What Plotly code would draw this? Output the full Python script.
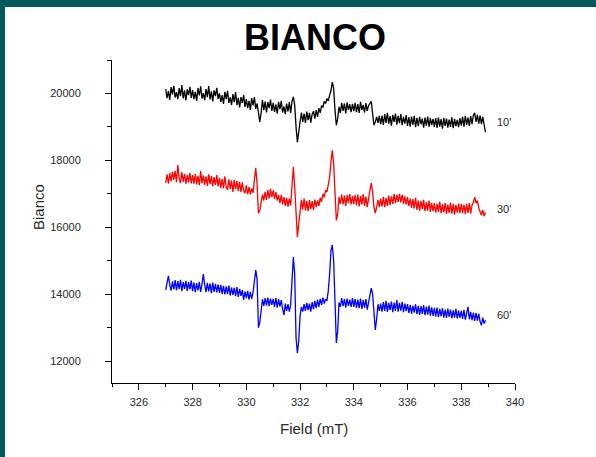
import numpy as np
import plotly.graph_objects as go

# Field sweep (mT), sampled every 0.05 mT
field = np.round(np.arange(327.0, 338.9001, 0.05), 2)

# EPR intensity, 10 minutes
bianco_10 = [
    20130, 19860, 20070, 19810, 20190, 19970, 20230, 19880, 20040, 19830, 20160, 19920, 20250, 19850, 20090, 19790, 20120, 19950, 20200, 19870,
    20100, 19830, 20050, 19780, 20160, 19940, 20210, 19850, 20010, 19800, 20130, 19890, 20220, 19820, 20060, 19760, 20090, 19920, 20170, 19840,
    20000, 19740, 19950, 19690, 20050, 19830, 20080, 19720, 19880, 19660, 19980, 19740, 20040, 19650, 19870, 19580, 19890, 19720, 19950, 19600,
    19830, 19560, 19780, 19510, 19860, 19640, 19890, 19540, 19700, 19480, 19150, 19420, 19800, 19500, 19760, 19430, 19740, 19560, 19820, 19480,
    19720, 19450, 19670, 19400, 19750, 19530, 19780, 19430, 19610, 19380, 19700, 19460, 19740, 19420, 19760, 19900, 19650, 19000, 18540, 18850,
    19180, 19430, 19150, 19400, 19120, 19460, 19200, 19420, 19130, 19380, 19470, 19250, 19500, 19300, 19560, 19420, 19640, 19580, 19760, 19700,
    19850, 19780, 19950, 20080, 20340, 20150, 19500, 19050, 19250, 19600, 19420, 19720, 19480, 19700, 19400, 19730, 19510, 19680, 19440, 19690,
    19470, 19720, 19440, 19680, 19420, 19750, 19500, 19660, 19430, 19710, 19480, 19640, 19700, 19760, 19400, 19050, 19150, 19300, 19120, 19330,
    19080, 19340, 19060, 19380, 19120, 19420, 19100, 19320, 19040, 19360, 19150, 19400, 19070, 19330, 19110, 19380, 19050, 19300, 19100, 19350,
    19030, 19290, 19010, 19310, 19060, 19330, 18990, 19270, 19020, 19300, 19080, 19250, 18980, 19280, 19040, 19310, 19000, 19260, 19050, 19240,
    19000, 19260, 18970, 19280, 19010, 19230, 18950, 19270, 19030, 19250, 18980, 19220, 19000, 19290, 18960, 19240, 19020, 19210, 18990, 19260,
    19040, 19300, 19010, 19330, 19060, 19280, 19030, 19320, 19080, 19350, 19420, 19150, 19360, 19100, 19340, 19080, 19300, 19020, 18840,
]

# EPR intensity, 30 minutes
bianco_30 = [
    17330, 17580, 17300, 17620, 17380, 17660, 17420, 17690, 17350, 17860, 17470, 17320, 17640, 17360, 17600, 17300, 17570, 17340, 17620, 17310,
    17560, 17300, 17590, 17280, 17540, 17260, 17680, 17310, 17550, 17270, 17520, 17240, 17580, 17290, 17530, 17230, 17500, 17260, 17560, 17220,
    17480, 17180, 17450, 17160, 17520, 17200, 17120, 17430, 17150, 17400, 17060, 17420, 17140, 17390, 17080, 17360, 17050, 17340, 17100, 17020,
    17250, 16990, 17200, 16980, 17160, 17030, 17420, 17770, 17300, 16420, 16500, 16780, 16980, 16800, 17060, 16820, 17110, 16860, 17150, 16900,
    17100, 16850, 17050, 16800, 16960, 16720, 16970, 16680, 16900, 16640, 16880, 16620, 16860, 16650, 17300, 17800, 17200, 16200, 15710, 16100,
    16560, 16820, 16530, 16860, 16500, 16790, 16480, 16810, 16550, 16780, 16520, 16830, 16600, 16800, 16640, 16880, 16760, 17000, 16900, 17110,
    17050, 17250, 17500, 17950, 18300, 17900, 17000, 16210, 16400, 16900, 16700, 16980, 16680, 16950, 16640, 16960, 16720, 16990, 16680, 16940,
    16690, 16960, 16650, 16980, 16620, 16930, 16680, 16990, 16640, 16920, 16600, 16900, 17100, 17320, 17050, 16600, 16420, 16600, 16820, 16600,
    16860, 16620, 16900, 16600, 16880, 16640, 16950, 16660, 16920, 16700, 16990, 16720, 16970, 16760, 17000, 16740, 16980, 16700, 16920, 16680,
    16900, 16640, 16860, 16580, 16840, 16560, 16880, 16520, 16800, 16500, 16790, 16540, 16820, 16480, 16760, 16500, 16800, 16460, 16720, 16480,
    16720, 16440, 16700, 16460, 16760, 16420, 16690, 16450, 16720, 16400, 16680, 16430, 16740, 16410, 16690, 16380, 16670, 16440, 16710, 16420,
    16690, 16420, 16680, 16400, 16700, 16430, 16720, 16410, 16660, 16750, 16900, 16720, 16800, 16580, 16450, 16360, 16520, 16330, 16440,
]

# EPR intensity, 60 minutes
bianco_60 = [
    14130, 14380, 14550, 14280, 14110, 14380, 14140, 14420, 14120, 14390, 14150, 14430, 14090, 14360, 14160, 14400, 14100, 14370, 14140, 14410,
    14090, 14350, 14060, 14330, 14110, 14370, 14070, 14300, 14600, 14280, 14060, 14340, 14080, 14320, 14030, 14350, 14070, 14310, 14050, 14290,
    14040, 14280, 14010, 14250, 13990, 14230, 14000, 14260, 13960, 14200, 13980, 14190, 13940, 14210, 13920, 14160, 13950, 14120, 13830, 14080,
    13880, 14100, 13840, 14070, 13860, 14050, 14400, 14720, 14450, 13000, 13150, 13600, 13850, 13650, 13880, 13660, 13900, 13640, 13870, 13680,
    13860, 13620, 13880, 13600, 13850, 13630, 13820, 13570, 13380, 13720, 13500, 13700, 13480, 13680, 14300, 15110, 14600, 12700, 12240, 12600,
    13350, 13620, 13480, 13700, 13500, 13740, 13520, 13720, 13480, 13760, 13550, 13800, 13580, 13840, 13620, 13860, 13680, 13900, 13720, 13850,
    13800, 14100, 14600, 15300, 15470, 15000, 13800, 12540, 12900, 13750, 13620, 13880, 13640, 13850, 13600, 13870, 13650, 13840, 13620, 13880,
    13620, 13860, 13590, 13840, 13580, 13870, 13560, 13820, 13600, 13850, 13540, 13800, 13950, 14180, 14000, 13300, 12930, 13250, 13700, 13500,
    13720, 13480, 13760, 13500, 13800, 13470, 13740, 13520, 13780, 13460, 13750, 13500, 13820, 13480, 13740, 13510, 13770, 13460, 13720, 13490,
    13700, 13440, 13680, 13420, 13660, 13450, 13700, 13400, 13650, 13380, 13640, 13410, 13670, 13370, 13630, 13390, 13660, 13360, 13610, 13350,
    13590, 13330, 13600, 13310, 13560, 13340, 13580, 13300, 13540, 13290, 13570, 13320, 13540, 13280, 13520, 13300, 13560, 13270, 13510, 13290,
    13500, 13260, 13530, 13240, 13480, 13620, 13250, 13470, 13220, 13450, 13200, 13440, 13210, 13420, 13180, 13070, 13300, 13120, 13220,
]

series_names = ["10'", "30'", "60'"]
series_values = [bianco_10, bianco_30, bianco_60]
series_colors = ["#000000", "#ff0000", "#0000ff"]
label_y = [19150, 16540, 13370]

x_ticks = [326, 328, 330, 332, 334, 336, 338, 340]
y_ticks = [12000, 14000, 16000, 18000, 20000]

FONT = "Liberation Sans, Arial, sans-serif"
TEAL = "#02595b"
TEXT = "#2a2a2a"

fig = go.Figure()
for name, vals, col in zip(series_names, series_values, series_colors):
    fig.add_trace(go.Scatter(x=field, y=vals, mode="lines", name=name,
                             line=dict(color=col, width=1.3), showlegend=False))

annotations = []
for name, ly in zip(series_names, label_y):
    annotations.append(dict(x=339.25, y=ly, xref="x", yref="y", text=name, showarrow=False,
                            xanchor="left", yanchor="middle",
                            font=dict(family=FONT, size=11, color=TEXT)))

annotations += [
    dict(x=0.504, y=1.071, xref="paper", yref="paper", text="<b>BIANCO</b>", showarrow=False,
         xanchor="center", yanchor="middle", font=dict(family=FONT, size=36, color="#000000")),
    dict(x=0.501, y=-0.142, xref="paper", yref="paper", text="Field (mT)", showarrow=False,
         xanchor="center", yanchor="middle", font=dict(family=FONT, size=15, color=TEXT)),
    dict(x=-0.181, y=0.545, xref="paper", yref="paper", text="Bianco", showarrow=False,
         textangle=-90, xanchor="center", yanchor="middle", font=dict(family=FONT, size=15, color=TEXT)),
]

shapes = [
    dict(type="rect", xref="paper", yref="paper", x0=-0.28, x1=1.21, y0=1.164, y1=1.19,
         fillcolor=TEAL, line=dict(width=0), layer="above"),
    dict(type="rect", xref="paper", yref="paper", x0=-0.28, x1=-0.2655, y0=-0.235, y1=1.19,
         fillcolor=TEAL, line=dict(width=0), layer="above"),
]

axis_common = dict(showline=True, linecolor="#000000", linewidth=1, showgrid=False, zeroline=False,
                   ticks="outside", ticklen=6, tickwidth=1, tickcolor="#000000",
                   tickfont=dict(family=FONT, size=11, color=TEXT))

fig.update_layout(
    width=596, height=457,
    margin=dict(l=112, r=81, t=60, b=74),
    paper_bgcolor="#ffffff", plot_bgcolor="#ffffff",
    annotations=annotations, shapes=shapes,
    xaxis=dict(range=[325, 340], tickvals=x_ticks, ticktext=[str(v) for v in x_ticks],
               ticklabelstandoff=3,
               minor=dict(dtick=1, tick0=325, ticks="outside", ticklen=3, tickcolor="#000000"),
               **axis_common),
    yaxis=dict(range=[11345, 21000], tickvals=y_ticks, ticktext=[str(v) for v in y_ticks],
               ticklabelstandoff=22,
               minor=dict(dtick=1000, tick0=11000, ticks="outside", ticklen=4, tickcolor="#000000"),
               **axis_common),
)

fig.write_html("out.html")
